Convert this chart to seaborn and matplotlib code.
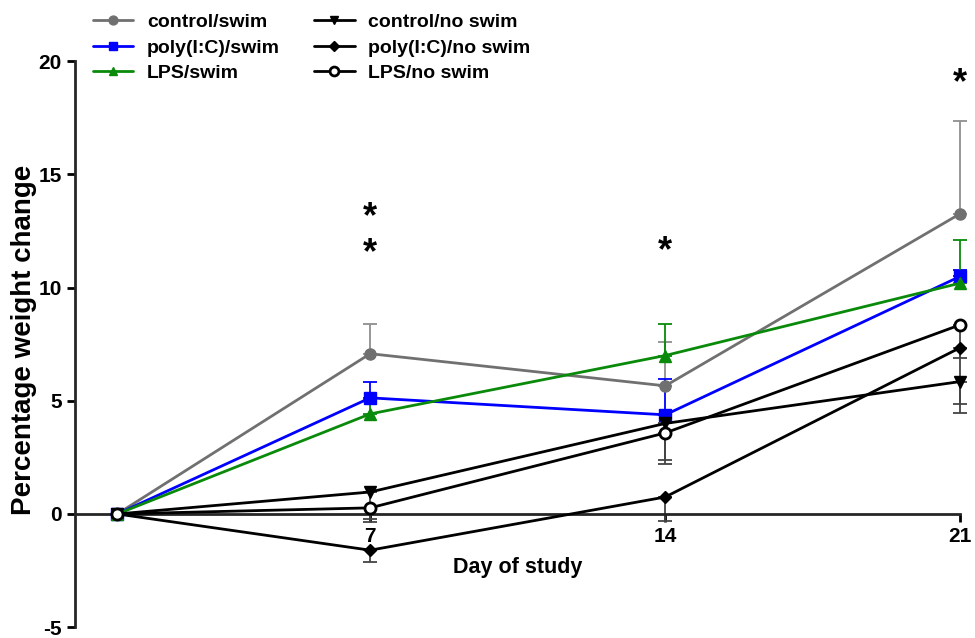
import numpy as np
import pandas as pd
import matplotlib
matplotlib.use("Agg")
import matplotlib.pyplot as plt
import seaborn as sns

# values
days = [1, 7, 14, 21]
tick_days = [7, 14, 21]
y_ticks = [-5, 0, 5, 10, 15, 20]

ctrl_swim = [0, 7.08, 5.66, 13.27]
ctrl_swim_err = [0, 1.32, 1.95, 4.10]
polyic_swim = [0, 5.13, 4.38, 10.50]
polyic_swim_err = [0, 0.72, 1.60, 0.30]
lps_swim = [0, 4.42, 7.00, 10.20]
lps_swim_err = [0, 0.60, 1.40, 1.90]

ctrl_noswim = [0, 0.97, 4.00, 5.85]
ctrl_noswim_err = [0, 1.17, 1.80, 1.38]
polyic_noswim = [0, -1.60, 0.75, 7.35]
polyic_noswim_err = [0, 0.50, 1.05, 0.45]
lps_noswim = [0, 0.27, 3.58, 8.36]
lps_noswim_err = [0, 0.62, 1.18, 3.49]

# significance stars: (day, y)
star_days = [7, 7, 14, 21]
star_y = [13.1, 11.5, 11.6, 19.0]

groups = [
    # label, values, error, direction, line colour, marker, error colour, filled
    ("control/swim", ctrl_swim, ctrl_swim_err, "up", "#707070", "o", "#8f8f8f", True),
    ("poly(I:C)/swim", polyic_swim, polyic_swim_err, "up", "#0000ff", "s", "#0000ff", True),
    ("LPS/swim", lps_swim, lps_swim_err, "up", "#0a8a0a", "^", "#0a8a0a", True),
    ("control/no swim", ctrl_noswim, ctrl_noswim_err, "down", "#000000", "v", "#444444", True),
    ("poly(I:C)/no swim", polyic_noswim, polyic_noswim_err, "down", "#000000", "D", "#444444", True),
    ("LPS/no swim", lps_noswim, lps_noswim_err, "down", "#000000", "o", "#444444", False),
]

sns.set_style("ticks")
plt.rcParams['font.family'] = ['Liberation Sans', 'DejaVu Sans']
plt.rcParams['font.weight'] = 'bold'
plt.rcParams['text.color'] = 'black'
plt.rcParams['axes.labelcolor'] = 'black'
plt.rcParams['xtick.color'] = 'black'
plt.rcParams['ytick.color'] = 'black'
plt.rcParams['axes.unicode_minus'] = False

fig = plt.figure(figsize=(9.75, 6.38), dpi=100)
ax = fig.add_axes([0.077, 0.017, 0.908, 0.887])

for label, vals, err, direction, color, marker, ecolor, filled in groups:
    zeros = [0] * len(err)
    yerr = [zeros, err] if direction == "up" else [err, zeros]
    ax.errorbar(days, vals, yerr=yerr, fmt='none', ecolor=ecolor,
                elinewidth=1.3, capsize=5, capthick=1.3, clip_on=False, zorder=2)
    df = pd.DataFrame({"day": days, "value": vals})
    msize = 6 if marker == "D" else 8
    sns.lineplot(data=df, x="day", y="value", ax=ax, color=color, linewidth=2,
                 marker=marker, markersize=msize,
                 markerfacecolor=color if filled else "white",
                 markeredgecolor=color, markeredgewidth=2 if not filled else 1,
                 label=label, errorbar=None, clip_on=False, zorder=3)

for d, y in zip(star_days, star_y):
    ax.text(d, y, "*", ha='center', va='center', fontsize=26, fontweight='bold',
            color='black')

ax.set_xlim(0, 21)
ax.set_ylim(-5, 20)
ax.set_xticks(tick_days)
ax.set_yticks(y_ticks)
ax.spines['bottom'].set_position(('data', 0))
ax.spines['top'].set_visible(False)
ax.spines['right'].set_visible(False)
ax.spines['left'].set_linewidth(2)
ax.spines['bottom'].set_linewidth(2)
ax.tick_params(axis='both', direction='out', width=2, length=6, colors='black',
               labelsize=15)
for lbl in ax.get_xticklabels() + ax.get_yticklabels():
    lbl.set_fontweight('bold')
ax.set_xlabel("Day of study", fontsize=15.5, fontweight='bold', labelpad=8)
ax.set_ylabel("Percentage weight change", fontsize=20, fontweight='bold')
ax.yaxis.set_label_coords(-0.043, 0.507)

ax.legend(loc='upper left', bbox_to_anchor=(0.0, 1.115), ncol=2, frameon=False,
          prop={'size': 14, 'weight': 'bold'}, handlelength=2.1, handletextpad=0.7,
          columnspacing=1.75, labelspacing=0.4, markerscale=0.8)

fig.savefig("out.png", dpi=100)
